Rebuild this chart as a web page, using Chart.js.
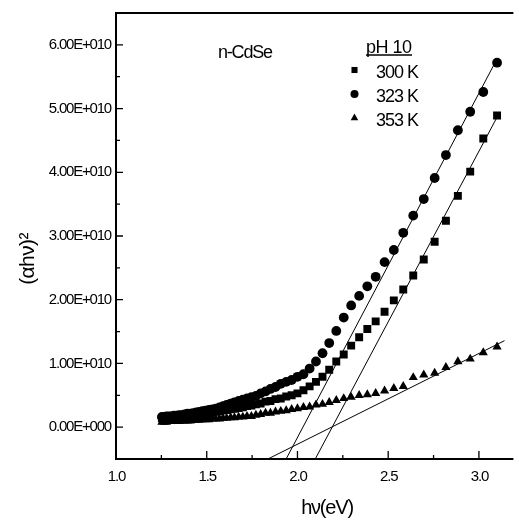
<!DOCTYPE html>
<html>
<head>
<meta charset="utf-8">
<script src="https://cdn.jsdelivr.net/npm/chart.js@4.4.0/dist/chart.umd.min.js"></script>
<style>
  html, body { margin: 0; padding: 0; background: #fff; overflow: hidden; }
  canvas { display: block; }
</style>
</head>
<body>
<canvas id="tauc" width="519" height="520"></canvas>
<script>
// Photon energy hν (eV) of each measured point
const photonEnergy = [
  1.253, 1.265, 1.278, 1.292, 1.305, 1.319, 1.333, 1.348, 1.363, 1.378,
  1.393, 1.409, 1.425, 1.442, 1.459, 1.476, 1.494, 1.512, 1.531, 1.550,
  1.570, 1.590, 1.610, 1.632, 1.653, 1.676, 1.699, 1.722, 1.746, 1.771,
  1.797, 1.824, 1.851, 1.879, 1.908, 1.938, 1.968, 2.000, 2.033, 2.067,
  2.102, 2.138, 2.175, 2.214, 2.255, 2.296, 2.340, 2.385, 2.431, 2.480,
  2.531, 2.583, 2.638, 2.696, 2.756, 2.818, 2.884, 2.952, 3.024, 3.100
];

// (αhν)² in units of 1E+010
const alpha300K = [
  0.14, 0.14, 0.15, 0.15, 0.15, 0.16, 0.16, 0.16, 0.17, 0.17,
  0.18, 0.18, 0.19, 0.19, 0.20, 0.21, 0.21, 0.22, 0.23, 0.24,
  0.25, 0.26, 0.27, 0.28, 0.29, 0.30, 0.31, 0.33, 0.34, 0.36,
  0.37, 0.40, 0.41, 0.44, 0.45, 0.48, 0.50, 0.53, 0.58, 0.64,
  0.71, 0.79, 0.90, 1.03, 1.14, 1.28, 1.41, 1.54, 1.66, 1.81,
  1.99, 2.16, 2.38, 2.63, 2.91, 3.24, 3.63, 4.01, 4.53, 4.89
];
const alpha323K = [
  0.16, 0.16, 0.17, 0.17, 0.17, 0.18, 0.18, 0.19, 0.19, 0.20,
  0.21, 0.21, 0.22, 0.23, 0.24, 0.25, 0.26, 0.27, 0.28, 0.29,
  0.31, 0.33, 0.35, 0.37, 0.39, 0.41, 0.43, 0.45, 0.47, 0.49,
  0.53, 0.56, 0.60, 0.63, 0.68, 0.71, 0.74, 0.79, 0.83, 0.92,
  1.03, 1.16, 1.32, 1.51, 1.72, 1.91, 2.06, 2.21, 2.36, 2.59,
  2.78, 3.05, 3.32, 3.58, 3.91, 4.27, 4.66, 4.95, 5.26, 5.72
];
const alpha353K = [
  0.08, 0.08, 0.08, 0.09, 0.09, 0.09, 0.09, 0.09, 0.10, 0.10,
  0.10, 0.10, 0.11, 0.11, 0.11, 0.12, 0.12, 0.12, 0.13, 0.13,
  0.13, 0.14, 0.14, 0.15, 0.15, 0.16, 0.16, 0.17, 0.17, 0.19,
  0.20, 0.22, 0.22, 0.24, 0.25, 0.26, 0.28, 0.29, 0.31, 0.32,
  0.35, 0.36, 0.39, 0.42, 0.45, 0.47, 0.50, 0.51, 0.53, 0.57,
  0.61, 0.64, 0.78, 0.82, 0.85, 0.94, 1.03, 1.07, 1.17, 1.26
];

// Linear extrapolations of the absorption edges (end points)
const fit300K = { x: [2.098, 3.114], y: [-0.5, 4.94] };
const fit323K = { x: [1.9375, 3.098], y: [-0.5, 5.77] };
const fit353K = { x: [1.837, 3.141], y: [-0.5, 1.357] };

// Axis ticks
const xMajorTicks = [1.0, 1.5, 2.0, 2.5, 3.0];
const xTickLabels = ['1.0', '1.5', '2.0', '2.5', '3.0'];
const xMinorTicks = [1.25, 1.75, 2.25, 2.75];
const yMajorTicks = [0, 1, 2, 3, 4, 5, 6];
const yTickLabels = ['0.00E+000', '1.00E+010', '2.00E+010', '3.00E+010', '4.00E+010', '5.00E+010', '6.00E+010'];
const yMinorTicks = [0.5, 1.5, 2.5, 3.5, 4.5, 5.5];

const seriesNames = ['300 K', '323 K', '353 K'];
const seriesStyles = ['rect', 'circle', 'triangle'];
const seriesRadius = [5.6, 4.9, 5.3];

const FONT = '"Liberation Sans", Arial, Helvetica, sans-serif';

const toPoints = (xs, ys) => xs.map((x, i) => ({ x, y: ys[i] }));

function fitLine(fit) {
  return {
    type: 'line',
    data: toPoints(fit.x, fit.y),
    borderColor: '#000',
    borderWidth: 1,
    pointRadius: 0,
    fill: false,
    tension: 0
  };
}

function markers(values, idx) {
  return {
    type: 'scatter',
    label: seriesNames[idx],
    data: toPoints(photonEnergy, values),
    pointStyle: seriesStyles[idx],
    pointRadius: seriesRadius[idx],
    pointBackgroundColor: '#000',
    pointBorderWidth: 0,
    borderWidth: 0
  };
}

function drawText(ctx, s, x, y, size, align, baseline, spacing) {
  ctx.save();
  ctx.font = size + 'px ' + FONT;
  ctx.fillStyle = '#000';
  ctx.textAlign = align;
  ctx.textBaseline = baseline;
  try { ctx.letterSpacing = spacing + 'px'; } catch (e) {}
  ctx.fillText(s, x, y);
  ctx.restore();
}

const frame = {
  id: 'frame',
  beforeDraw(chart) {
    const ctx = chart.ctx;
    ctx.save();
    ctx.fillStyle = '#fff';
    ctx.fillRect(0, 0, chart.width, chart.height);
    ctx.restore();
  },
  afterDatasetsDraw(chart) {
    const { ctx, chartArea: a, scales: { x, y } } = chart;
    ctx.save();
    ctx.strokeStyle = '#000';

    // frame lines
    ctx.lineWidth = 2;
    ctx.beginPath();
    ctx.moveTo(a.left, a.top);
    ctx.lineTo(a.right, a.top);
    ctx.moveTo(a.left, a.top - 1);
    ctx.lineTo(a.left, a.bottom + 1);
    ctx.moveTo(a.left - 1, a.bottom);
    ctx.lineTo(a.right, a.bottom);
    ctx.stroke();

    // inward tick marks
    ctx.lineWidth = 1.3;
    ctx.beginPath();
    xMajorTicks.forEach(v => { const px = x.getPixelForValue(v); ctx.moveTo(px, a.bottom); ctx.lineTo(px, a.bottom - 8); });
    xMinorTicks.forEach(v => { const px = x.getPixelForValue(v); ctx.moveTo(px, a.bottom); ctx.lineTo(px, a.bottom - 4); });
    yMajorTicks.forEach(v => { const py = y.getPixelForValue(v); ctx.moveTo(a.left, py); ctx.lineTo(a.left + 7, py); });
    yMinorTicks.forEach(v => { const py = y.getPixelForValue(v); ctx.moveTo(a.left, py); ctx.lineTo(a.left + 4, py); });
    ctx.stroke();
    ctx.restore();

    // tick labels
    xMajorTicks.forEach((v, i) => drawText(ctx, xTickLabels[i], x.getPixelForValue(v) + 0.5, a.bottom + 18, 15, 'center', 'middle', -1.2));
    yMajorTicks.forEach((v, i) => drawText(ctx, yTickLabels[i], a.left - 5, y.getPixelForValue(v), 15, 'right', 'middle', -1.2));

    // axis titles
    drawText(ctx, 'hν(eV)', 327, 514, 20, 'center', 'alphabetic', -1.2);
    ctx.save();
    ctx.translate(34, 259);
    ctx.rotate(-Math.PI / 2);
    drawText(ctx, '(αhν)²', 0, 0, 21, 'center', 'alphabetic', -0.6);
    ctx.restore();

    // sample name
    drawText(ctx, 'n-CdSe', 218, 58, 18, 'left', 'alphabetic', -1.2);

    // legend
    drawText(ctx, 'pH 10', 366, 52.5, 18, 'left', 'alphabetic', -0.5);
    ctx.save();
    ctx.strokeStyle = '#000';
    ctx.lineWidth = 1.5;
    ctx.beginPath();
    ctx.moveTo(366, 55);
    ctx.lineTo(412, 55);
    ctx.stroke();
    ctx.restore();

    const rowY = [71, 95, 119];
    const legendR = [4.3, 4.0, 4.4];
    seriesNames.forEach((name, i) => {
      ctx.save();
      ctx.fillStyle = '#000';
      Chart.helpers.drawPoint(ctx, { pointStyle: seriesStyles[i], radius: legendR[i], rotation: 0, borderWidth: 0 }, 354.5, rowY[i] - 1);
      ctx.restore();
      drawText(ctx, name, 376, rowY[i] + 6.5, 18, 'left', 'alphabetic', -1);
    });
  }
};

new Chart(document.getElementById('tauc'), {
  data: {
    datasets: [
      fitLine(fit323K),
      fitLine(fit300K),
      fitLine(fit353K),
      markers(alpha300K, 0),
      markers(alpha323K, 1),
      markers(alpha353K, 2)
    ]
  },
  options: {
    responsive: false,
    animation: false,
    devicePixelRatio: 1,
    layout: { padding: { left: 116, top: 13, right: 0, bottom: 61 } },
    plugins: { legend: { display: false }, tooltip: { enabled: false } },
    scales: {
      x: { type: 'linear', display: false, min: 1.0, max: 3.19 },
      y: { type: 'linear', display: false, min: -0.5, max: 6.5 }
    }
  },
  plugins: [frame]
});
</script>
</body>
</html>
